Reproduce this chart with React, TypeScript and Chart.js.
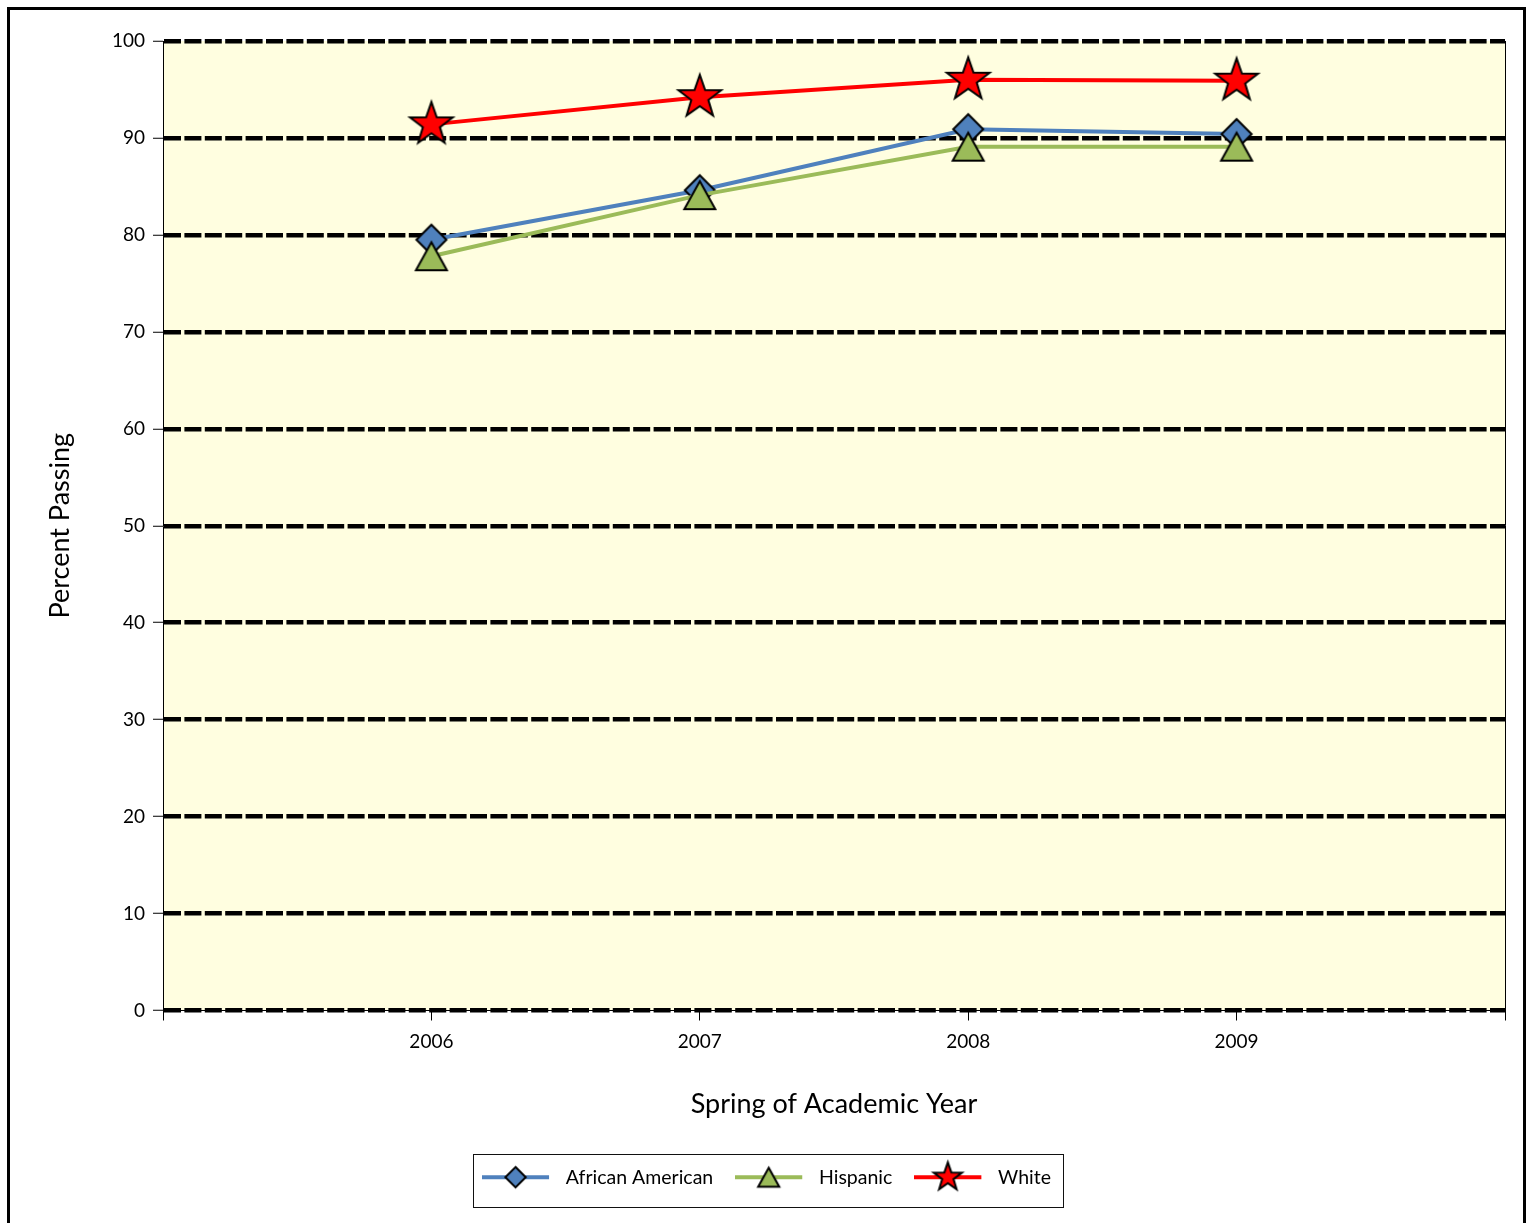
import React, { useEffect, useRef } from 'react';
import { Chart, registerables } from 'chart.js';

Chart.register(...registerables);

// ---- Data ----
const categories = ['', '2006', '2007', '2008', '2009', ''];
const seriesNames = ['African American', 'Hispanic', 'White'];
const africanAmerican = [null, 79.5, 84.6, 90.9, 90.4, null];
const hispanic = [null, 77.8, 84.1, 89.1, 89.1, null];
const white = [null, 91.4, 94.2, 96.0, 95.9, null];
const yMin = 0;
const yMax = 100;
const yStep = 10;
const xTitle = 'Spring of Academic Year';
const yTitle = 'Percent Passing';

// ---- Styles ----
const FONT = 'Lato';
const seriesColors = ['#4F81BD', '#9BBB59', '#FF0000'];
const markerKinds = ['diamond', 'triangle', 'star'];
const plotBg = '#FFFEE0';

type Kind = 'diamond' | 'triangle' | 'star';

function drawMarker(ctx: CanvasRenderingContext2D, kind: Kind, cx: number, cy: number, fill: string, scale: number) {
  ctx.save();
  ctx.beginPath();
  if (kind === 'diamond') {
    const r = 15 * scale;
    ctx.moveTo(cx, cy - r);
    ctx.lineTo(cx + r, cy);
    ctx.lineTo(cx, cy + r);
    ctx.lineTo(cx - r, cy);
  } else if (kind === 'triangle') {
    const hw = 15.5 * scale;
    const hh = 14 * scale;
    ctx.moveTo(cx, cy - hh);
    ctx.lineTo(cx + hw, cy + hh);
    ctx.lineTo(cx - hw, cy + hh);
  } else {
    const R = 22.5 * scale;
    const r = R * 0.4;
    for (let i = 0; i < 10; i++) {
      const a = -Math.PI / 2 + (i * Math.PI) / 5;
      const rad = i % 2 === 0 ? R : r;
      const x = cx + Math.cos(a) * rad;
      const y = cy + Math.sin(a) * rad;
      if (i === 0) ctx.moveTo(x, y);
      else ctx.lineTo(x, y);
    }
  }
  ctx.closePath();
  ctx.fillStyle = fill;
  ctx.fill();
  ctx.lineWidth = 2;
  ctx.lineJoin = 'miter';
  ctx.strokeStyle = '#000';
  ctx.stroke();
  ctx.restore();
}

function makePointImage(kind: Kind, fill: string) {
  const c = document.createElement('canvas');
  c.width = 64;
  c.height = 64;
  const ctx = c.getContext('2d')!;
  drawMarker(ctx, kind, 32, 32, fill, 1);
  return c;
}

function makeLegendImage(kind: Kind, fill: string) {
  const c = document.createElement('canvas');
  c.width = 74;
  c.height = 40;
  const ctx = c.getContext('2d')!;
  ctx.strokeStyle = fill;
  ctx.lineWidth = 4;
  ctx.beginPath();
  ctx.moveTo(0, 20);
  ctx.lineTo(67, 20);
  ctx.stroke();
  const s = kind === 'star' ? 0.66 : 0.68;
  drawMarker(ctx, kind, 33.5, 20, fill, s);
  return c;
}

const LEGEND_SHIFT = 9;

const bgPlugin = {
  id: 'plotBg',
  afterLayout(chart: any) {
    const lg = chart.legend;
    if (lg) {
      lg.left += LEGEND_SHIFT;
      lg.right += LEGEND_SHIFT;
    }
  },
  beforeDraw(chart: any) {
    const { ctx, chartArea } = chart;
    ctx.save();
    ctx.fillStyle = plotBg;
    ctx.fillRect(chartArea.left, chartArea.top, chartArea.right - chartArea.left, chartArea.bottom - chartArea.top);
    ctx.restore();
  },
  afterDraw(chart: any) {
    const { ctx, chartArea } = chart;
    ctx.save();
    ctx.strokeStyle = '#000';
    ctx.lineWidth = 1;
    ctx.beginPath();
    ctx.moveTo(Math.round(chartArea.right) + 0.5, chartArea.top);
    ctx.lineTo(Math.round(chartArea.right) + 0.5, chartArea.bottom);
    ctx.stroke();
    const lg = chart.legend;
    const hb = lg && lg.legendHitBoxes;
    if (hb && hb.length) {
      const first = hb[0];
      const last = hb[hb.length - 1];
      const cy = first.top + first.height / 2;
      const l = Math.round(first.left - 9) + 0.5;
      const r = Math.round(last.left + last.width + 12) + 0.5;
      const t = Math.round(cy - 23) + 0.5;
      const b = Math.round(cy + 30) + 0.5;
      ctx.strokeStyle = '#111';
      ctx.strokeRect(l, t, r - l, b - t);
    }
    ctx.restore();
  },
};

export default function App() {
  const ref = useRef<HTMLCanvasElement>(null);

  useEffect(() => {
    const pointImages = markerKinds.map((k, i) => makePointImage(k as Kind, seriesColors[i]));
    const legendImages = markerKinds.map((k, i) => makeLegendImage(k as Kind, seriesColors[i]));
    const values = [africanAmerican, hispanic, white];

    const chart = new Chart(ref.current!, {
      type: 'line',
      data: {
        labels: categories,
        datasets: values.map((v, i) => ({
          label: seriesNames[i],
          data: v,
          borderColor: seriesColors[i],
          backgroundColor: seriesColors[i],
          borderWidth: 4,
          tension: 0,
          fill: false,
          pointStyle: pointImages[i],
          pointRadius: 12,
          pointHoverRadius: 12,
          spanGaps: false,
          clip: false as any,
          order: 3 - i,
        })),
      },
      options: {
        animation: false,
        responsive: false,
        maintainAspectRatio: false,
        devicePixelRatio: 1,
        events: [],
        layout: { padding: { top: 31, right: 18, bottom: 26, left: 0 } },
        font: { family: FONT },
        plugins: {
          tooltip: { enabled: false },
          title: { display: false },
          legend: {
            display: true,
            position: 'bottom',
            labels: {
              usePointStyle: true,
              pointStyleWidth: 74,
              padding: 22,
              color: '#000',
              font: { family: FONT, size: 19.5 },
              generateLabels: () =>
                seriesNames.map((name, i) => ({
                  text: name,
                  pointStyle: legendImages[i],
                  fillStyle: seriesColors[i],
                  strokeStyle: seriesColors[i],
                  lineWidth: 0,
                  hidden: false,
                  datasetIndex: i,
                  fontColor: '#000',
                })) as any,
            },
          },
        },
        scales: {
          x: {
            type: 'category',
            offset: false,
            afterFit: (s: any) => {
              s.height = 135;
            },
            grid: {
              display: true,
              drawOnChartArea: false,
              drawTicks: true,
              tickLength: 10,
              tickColor: '#000',
              tickWidth: 1,
            },
            border: { display: true, color: '#000', width: 1 },
            ticks: {
              autoSkip: false,
              maxRotation: 0,
              minRotation: 0,
              padding: 10,
              color: '#000',
              font: { family: FONT, size: 19 },
            },
            title: {
              display: true,
              text: xTitle,
              color: '#000',
              font: { family: FONT, size: 27 },
              padding: { top: 0, bottom: 25 },
            },
          },
          y: {
            type: 'linear',
            min: yMin,
            max: yMax,
            afterFit: (s: any) => {
              s.width = 153;
            },
            grid: {
              display: true,
              drawOnChartArea: true,
              color: '#000',
              lineWidth: 4.5,
              drawTicks: true,
              tickLength: 10,
              tickColor: '#000',
              tickWidth: 1,
            },
            border: { display: true, color: '#000', width: 1, dash: [17, 3.4] },
            ticks: {
              stepSize: yStep,
              padding: 8,
              color: '#000',
              font: { family: FONT, size: 19 },
            },
            title: {
              display: true,
              text: yTitle,
              color: '#000',
              font: { family: FONT, size: 27 },
              padding: { top: 34, bottom: 0 },
            },
          },
        },
      },
      plugins: [bgPlugin],
    } as any);

    return () => chart.destroy();
  }, []);

  return (
    <div
      style={{
        position: 'fixed',
        left: 7,
        top: 7,
        width: 1519,
        height: 1240,
        border: '3px solid #000',
        boxSizing: 'border-box',
        background: '#fff',
        overflow: 'hidden',
      }}
    >
      <canvas ref={ref} width={1513} height={1213} style={{ display: 'block', width: 1513, height: 1213 }} />
    </div>
  );
}
